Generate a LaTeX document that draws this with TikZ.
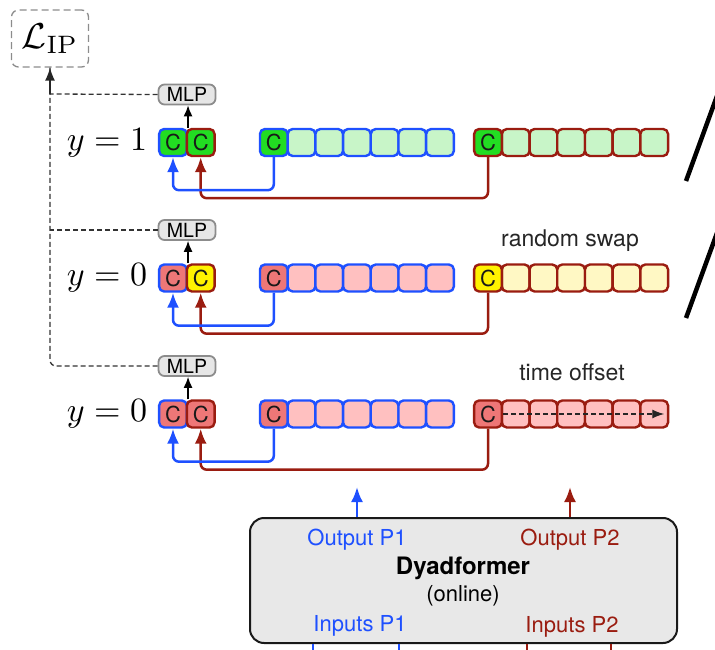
\documentclass[tikz,border=0pt]{standalone}
\usepackage{graphicx}
\usepackage{fontspec}
\setsansfont{TeX Gyre Heros}
\usetikzlibrary{arrows.meta,calc}
\definecolor{pblue}{HTML}{1E50FF}
\definecolor{pred}{HTML}{9A1C10}
\definecolor{cgreen}{HTML}{22DD22}
\definecolor{lgreen}{HTML}{C8F5C8}
\definecolor{cpink}{HTML}{EE7777}
\definecolor{lpink}{HTML}{FFC0C0}
\definecolor{cyellow}{HTML}{FFF200}
\definecolor{lyellow}{HTML}{FFF8C4}
\definecolor{boxgray}{HTML}{E8E8E8}
\definecolor{mlpgray}{HTML}{E6E6E6}
\tikzset{
  cell/.style={draw, line width=2.4pt, rounded corners=5pt, minimum width=27.7pt,
    minimum height=27pt, inner sep=0pt, text=black!90,
    font=\sffamily\fontsize{22}{22}\selectfont},
  mlp/.style={draw=black!45, fill=mlpgray, line width=1.8pt, rounded corners=6pt,
    minimum width=57pt, minimum height=20pt, inner sep=0pt,
    font=\sffamily\fontsize{19.5}{19.5}\selectfont},
  lossbox/.style={draw=black!45, dash pattern=on 7pt off 4pt, line width=1.3pt,
    rounded corners=7pt, minimum width=77pt, minimum height=57pt, inner sep=0pt},
  bline/.style={draw=pblue, line width=2.5pt, rounded corners=6pt,
    -{Latex[length=15pt,width=12pt]}},
  rline/.style={draw=pred, line width=2.5pt, rounded corners=6pt,
    -{Latex[length=15pt,width=12pt]}},
  uparrow/.style={draw=black, line width=1.3pt, -{Latex[length=11pt,width=9pt]}},
  dashline/.style={draw=black!80, line width=1.3pt, dash pattern=on 5pt off 3pt,
    rounded corners=6pt},
  ylabel/.style={inner sep=0pt},
  note/.style={font=\sffamily\fontsize{23}{23}\selectfont, text=black!85, inner sep=0pt},
  dybox/.style={draw=black!90, fill=boxgray, line width=2pt, rounded corners=14pt,
    minimum width=427pt, minimum height=125pt, inner sep=0pt},
  boxtext/.style={font=\sffamily\fontsize{22}{22}\selectfont, inner sep=0pt},
  slash/.style={draw=black, line width=4.5pt}
}
% #1 prefix, #2 y, #3 pair A fill, #4 pair B fill, #5 blue C fill, #6 blue rest,
% #7 red C fill, #8 red rest
\newcommand\dyrow[8]{%
  \foreach \i in {1,...,6}{
    \node[cell, draw=pblue, fill=#6] (#1b\i) at ({273.8+27.7*\i},#2) {};
    \node[cell, draw=pred, fill=#8] (#1r\i) at ({488+27.7*\i},#2) {};
  }
  \node[cell, draw=pblue, fill=#5] (#1b0) at (273.8,#2) {C};
  \node[cell, draw=pred, fill=#7] (#1r0) at (488,#2) {C};
  \node[cell, draw=pblue, fill=#3] (#1pa) at (173,#2) {C};
  \node[cell, draw=pred, fill=#4] (#1pb) at (200.7,#2) {C};
  \node[mlp] (#1m) at (187,{#2-48}) {MLP};
  \draw[uparrow] (#1pa.north east) -- (#1pa.north east |- #1m.south);
  \draw[rline] (#1r0.south) -- ++(0,41) -| (#1pb.south);
  \draw[bline] (#1b0.south) -- ++(0,33) -| (#1pa.south);
}
\begin{document}
\begin{tikzpicture}[x=1pt,y=-1pt]
\useasboundingbox (0,0) rectangle (715,650);

\node[lossbox] (loss) at (50,38.5) {\scalebox{3.6}{$\mathcal{L}_{\mathrm{IP}}$}};

\dyrow{ra}{142.5}{cgreen}{cgreen}{cgreen}{lgreen}{cgreen}{lgreen}
\dyrow{rb}{278}{cpink}{cyellow}{cpink}{lpink}{cyellow}{lyellow}
\dyrow{rc}{414}{cpink}{cpink}{cpink}{lpink}{cpink}{lpink}

\node[ylabel] (ya) at (107,142.5) {\scalebox{3.4}{$y=1$}};
\node[ylabel] (yb) at (107,278) {\scalebox{3.4}{$y=0$}};
\node[ylabel] (yc) at (107,414) {\scalebox{3.4}{$y=0$}};

\node[note] (swap) at (570,241) {random swap};
\node[note] (offs) at (572,372) {time offset};

% dashed loss lines
\coordinate (jA) at (50,94);
\coordinate (jB) at (50,230);
\draw[dashline] (ram.west) -- (jA);
\draw[dashline] (rbm.west) -- (jB);
\draw[dashline] (rcm.west) -| (loss.south);
\draw[black!85, line width=1.3pt, -{Latex[length=13pt,width=10pt]}] (jA) -- (loss.south);

% time offset arrow
\coordinate (tend) at ($(rcr6.east)+(-5,0)$);
\draw[black!85, line width=1.3pt, dash pattern=on 5pt off 3pt,
  -{Latex[length=12pt,width=9pt]}] (rcr0.east) -- (tend);

% slashes
\draw[slash] (686,181) -- (717,96);
\draw[slash] (686,318) -- (717,233);

% Dyadformer
\node[dybox] (dy) at (463.5,580.5) {};
\node[boxtext, text=pblue] (op1) at (357,540) {Output P1};
\node[boxtext, text=pred] (op2) at (570,540) {Output P2};
\node[boxtext, font=\sffamily\bfseries\fontsize{24}{24}\selectfont] (dyt) at (463,568) {Dyadformer};
\node[boxtext] (onl) at (463,596) {(online)};
\node[boxtext, text=pblue] (ip1) at (360,626) {Inputs P1};
\node[boxtext, text=pred] (ip2) at (572,627) {Inputs P2};

\coordinate (o1) at (357,487);
\coordinate (o2) at (570,487);
\draw[bline] (op1 |- dy.north) -- (o1);
\draw[rline] (op2 |- dy.north) -- (o2);

\coordinate (b1) at (313,660);
\coordinate (b2) at (399,660);
\coordinate (b3) at (527,660);
\coordinate (b4) at (611,660);
\draw[pblue, line width=2.5pt] (b1 |- dy.south) -- (b1);
\draw[pblue, line width=2.5pt] (b2 |- dy.south) -- (b2);
\draw[pred, line width=2.5pt] (b3 |- dy.south) -- (b3);
\draw[pred, line width=2.5pt] (b4 |- dy.south) -- (b4);
\end{tikzpicture}
\end{document}
